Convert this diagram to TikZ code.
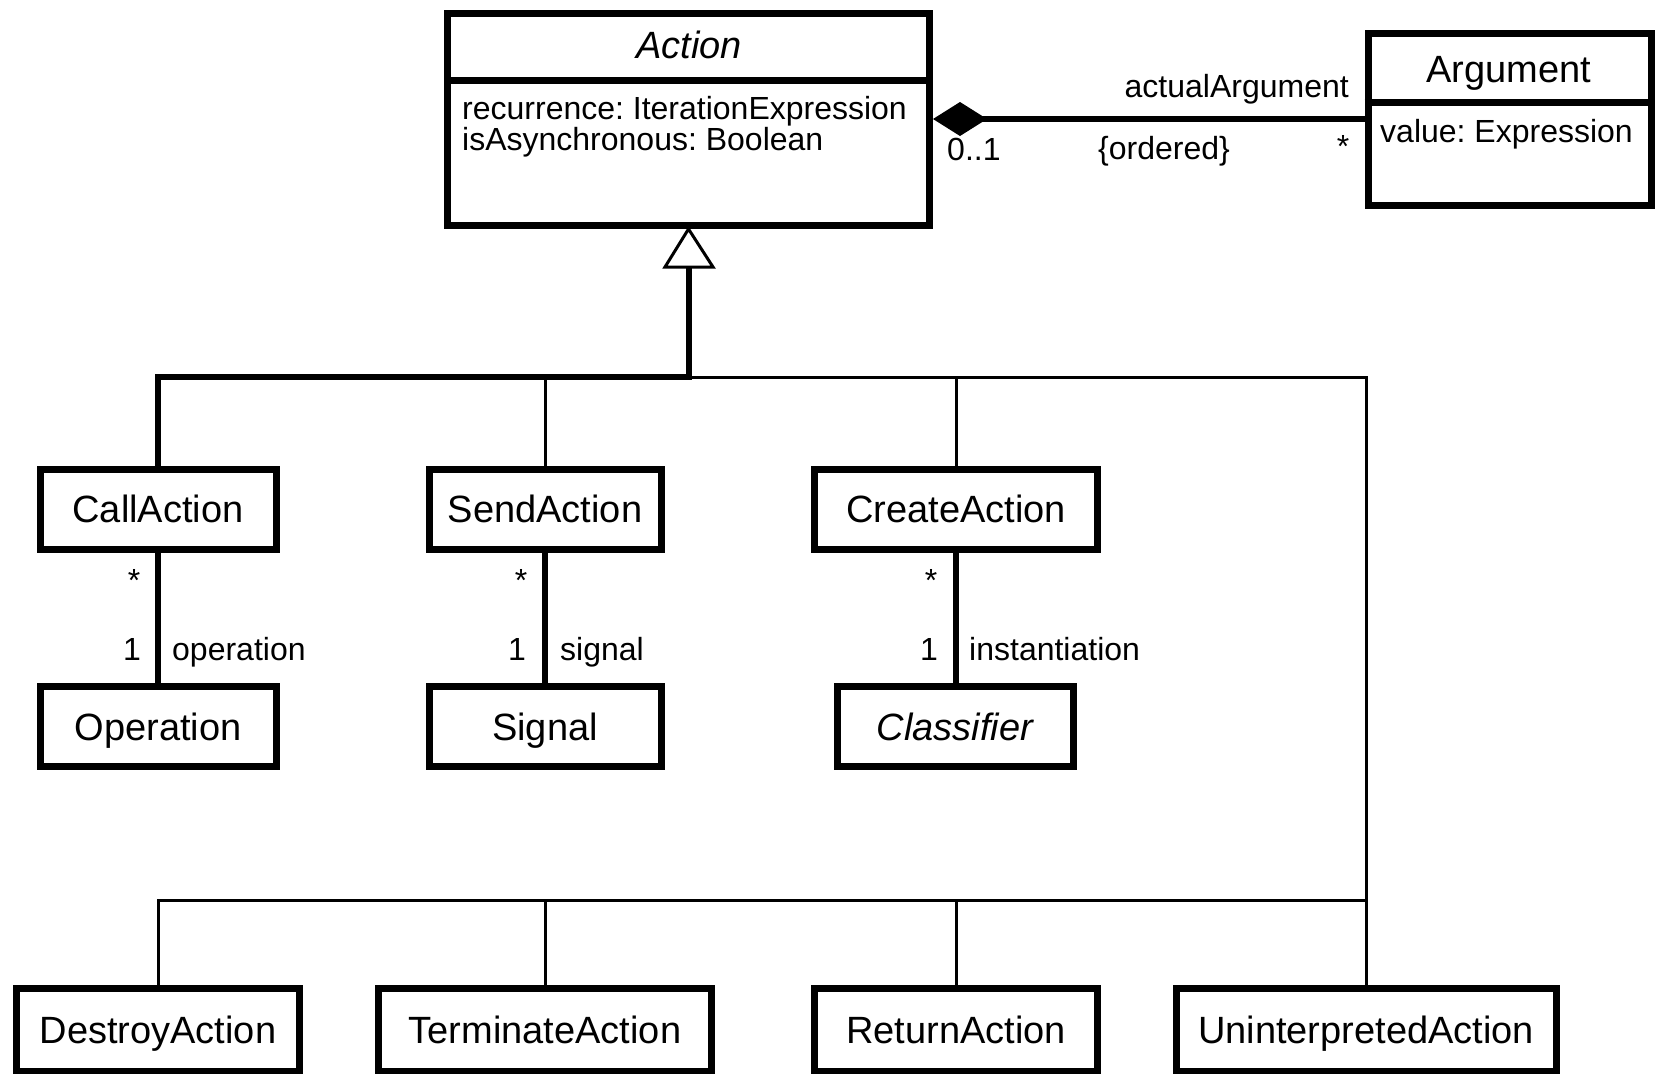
\documentclass[tikz,border=0pt]{standalone}
\usepackage{fontspec}
\setmainfont{Liberation Sans}
\usetikzlibrary{arrows.meta}
\frenchspacing

\begin{document}
\begin{tikzpicture}[x=1pt,y=-1pt,
  cls/.style={draw, line width=7pt, minimum width=#1, minimum height=80pt,
    inner sep=0pt, font=\fontsize{38}{44}\selectfont, text height=27pt, text depth=0pt},
  lowcls/.style={cls=#1, minimum height=83pt},
  ttl/.style={inner sep=0pt, font=\fontsize{38}{44}\selectfont},
  lbl/.style={inner sep=0pt, font=\fontsize{32}{31}\selectfont},
  heavy/.style={line width=6pt},
  light/.style={line width=3pt},
  divider/.style={line width=7pt}]

\fill[white] (0,0) rectangle (1656,1073);
\useasboundingbox (0,0) rectangle (1656,1073);

% ---- Action class ----
\node[cls=482pt, minimum height=212pt] (action) at (688.5,119.5) {};
\node[ttl, font=\fontsize{38}{44}\selectfont\itshape, anchor=base] (actiontitle) at (689,58.5) {Action};
\draw[divider] (action.west |- 0,80) -- (action.east |- 0,80);
\node[lbl, anchor=base west] (attr1) at (462,119) {recurrence: IterationExpression};
\node[lbl, anchor=base west] (attr2) at (462,150) {isAsynchronous: Boolean};

% ---- Argument class ----
\node[cls=283pt, minimum height=171pt] (argument) at (1509.5,119.5) {};
\node[ttl, anchor=base] (argtitle) at (1509,82.5) {Argument};
\draw[divider] (argument.west |- 0,102) -- (argument.east |- 0,102);
\node[lbl, anchor=base west] (argattr) at (1380,142) {value: Expression};

% ---- composition Action <>-- Argument ----
\draw[heavy, {Diamond[length=54pt,width=34pt]}-] (action.east |- 0,119) -- (argument.west |- 0,119);
\node[lbl, anchor=base east] (rolearg) at (1349,97) {actualArgument};
\node[lbl, anchor=base west] (multaction) at (947,160.5) {0..1};
\node[lbl, anchor=base west] (ordered) at (1098,159) {\{ordered\}};
\node[lbl, anchor=base] (multarg) at (1343,157) {*};

% ---- subclasses ----
\node[cls=236pt] (call) at (158,509) {CallAction};
\node[cls=232pt] (send) at (545,509) {SendAction};
\node[cls=283pt] (create) at (956,509) {CreateAction};

\node[cls=236pt] (operation) at (158,726.5) {Operation};
\node[cls=232pt] (signal) at (545,726.5) {Signal};
\node[cls=236pt, font=\fontsize{38}{44}\selectfont\itshape] (classifier) at (955,726.5) {Classifier};

\node[lowcls=283pt] (destroy) at (158,1030) {DestroyAction};
\node[lowcls=333pt] (terminate) at (545,1030) {TerminateAction};
\node[lowcls=283pt] (return) at (956,1030) {ReturnAction};
\node[lowcls=380pt] (uninterp) at (1366,1030) {UninterpretedAction};

% ---- generalization tree ----
\coordinate (tribase) at (689,267);
\coordinate (bus) at (689,377);
\coordinate (lowbus) at (1366,900);
\draw[heavy] (tribase) -- (bus) -| (call.north);
\draw[light] (bus) -| (send.north);
\draw[light] (bus) -| (create.north);
\draw[light] (bus) -| (uninterp.north);
\draw[light] (lowbus) -| (destroy.north);
\draw[light] (lowbus) -| (terminate.north);
\draw[light] (lowbus) -| (return.north);
\draw[line width=3pt, fill=white, line join=miter] (action.south) -- (tribase -| 665,0) -- (tribase -| 713,0) -- cycle;

% ---- associations to the referenced classes ----
\draw[heavy] (call.south) -- (operation.north);
\node[lbl, anchor=base] (callmany) at (134,591) {*};
\node[lbl, anchor=base] (callone) at (132,660) {1};
\node[lbl, anchor=base west] (oprole) at (172,660) {operation};

\draw[heavy] (send.south) -- (signal.north);
\node[lbl, anchor=base] (sendmany) at (521,591) {*};
\node[lbl, anchor=base] (sendone) at (517,660) {1};
\node[lbl, anchor=base west] (sigrole) at (560,660) {signal};

\draw[heavy] (create.south) -- (create.south |- classifier.north);
\node[lbl, anchor=base] (createmany) at (931,591) {*};
\node[lbl, anchor=base] (createone) at (929,660) {1};
\node[lbl, anchor=base west] (instrole) at (969,660) {instantiation};

\end{tikzpicture}
\end{document}
